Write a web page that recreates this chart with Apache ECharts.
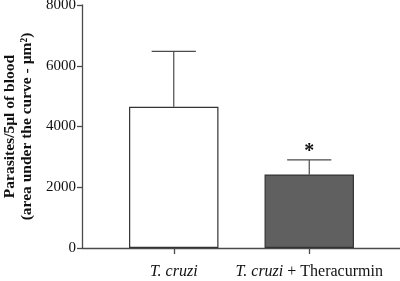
<!DOCTYPE html>
<html><head><meta charset="utf-8">
<script src="https://cdn.jsdelivr.net/npm/echarts@6/dist/echarts.min.js"></script>
<style>html,body{margin:0;padding:0;background:#fff}#c{width:400px;height:281px}</style>
</head><body><div id="c"></div>
<script>
const categories = ['T. cruzi', 'T. cruzi + Theracurmin'];
const means = [4650, 2420];
const errUpper = [6470, 2900];
const significance = ['', '*'];
const yTicks = [0, 2000, 4000, 6000, 8000];
const barColors = ['#ffffff', '#606060'];

const chart = echarts.init(document.getElementById('c'));
const serif = '"Liberation Serif", "DejaVu Serif", serif';
const lineCol = '#4a4a4a';
chart.setOption({
  animation: false,
  grid: [
    {left: 82, right: 0, top: 5, bottom: 33, outerBoundsMode: 'none', containLabel: false},
    {left: 106, right: 23, top: 5, bottom: 33, outerBoundsMode: 'none', containLabel: false}
  ],
  xAxis: [
    {gridIndex: 0, type: 'value', min: 0, max: 1, axisLine: {show: true, lineStyle: {color: lineCol, width: 1.3}},
     axisTick: {show: false}, axisLabel: {show: false}, splitLine: {show: false}},
    {gridIndex: 1, type: 'category', data: categories,
     axisLine: {show: false}, axisTick: {show: true, alignWithLabel: true, length: 6, lineStyle: {color: lineCol, width: 1.3}},
     axisLabel: {margin: 16, interval: 0, hideOverlap: false, fontFamily: serif, fontSize: 16, color: '#111',
       formatter: function (v) {
         const parts = v.split(' + ');
         return parts.length > 1 ? '{i|' + parts[0] + '}{n| + ' + parts[1] + '}' : '{i|' + v + '}';
       },
       rich: {i: {fontStyle: 'italic', fontFamily: serif, fontSize: 16, color: '#111'},
              n: {fontFamily: serif, fontSize: 16, color: '#111'}}
     }}
  ],
  yAxis: [
    {gridIndex: 0, type: 'value', min: yTicks[0], max: yTicks[yTicks.length - 1], interval: 2000,
     axisLine: {show: true, lineStyle: {color: lineCol, width: 1.3}},
     axisTick: {show: true, length: 5, lineStyle: {color: lineCol, width: 1.3}},
     axisLabel: {fontFamily: serif, fontSize: 15, color: '#111', margin: 6, formatter: v => String(v)},
     splitLine: {show: false},
     name: '{a|Parasites/5µl of blood}\n{a|(area under the curve - µm²)}',
     nameLocation: 'middle', nameGap: 45, nameRotate: 90,
     nameTextStyle: {fontFamily: serif, fontWeight: 'bold', fontSize: 15.5, color: '#111', lineHeight: 17,
       rich: {a: {fontFamily: serif, fontWeight: 'bold', fontSize: 15.5, color: '#111', lineHeight: 17}}}},
    {gridIndex: 1, type: 'value', min: yTicks[0], max: yTicks[yTicks.length - 1], show: false}
  ],
  series: [
    {type: 'bar', xAxisIndex: 1, yAxisIndex: 1, barWidth: '66%',
     data: means.map((v, i) => ({value: v, itemStyle: {color: barColors[i], borderColor: '#333', borderWidth: 1.2}}))},
    {type: 'custom', xAxisIndex: 1, yAxisIndex: 1,
     data: means.map((m, i) => [i, m, errUpper[i]]),
     renderItem: function (params, api) {
       const i = api.value(0);
       const base = api.coord([i, api.value(1)]);
       const top = api.coord([i, api.value(2)]);
       const half = api.size([1, 0])[0] * 0.163;
       const children = [
         {type: 'line', shape: {x1: base[0], y1: base[1], x2: top[0], y2: top[1]}, style: {stroke: lineCol, lineWidth: 1.2}},
         {type: 'line', shape: {x1: top[0] - half, y1: top[1], x2: top[0] + half, y2: top[1]}, style: {stroke: lineCol, lineWidth: 1.2}}
       ];
       if (significance[i]) {
         children.push({type: 'text', style: {text: significance[i], x: top[0], y: top[1] + 2, align: 'center', verticalAlign: 'bottom',
           font: 'bold 20px ' + serif, fill: '#111'}});
       }
       return {type: 'group', children: children};
     }}
  ]
});
</script></body></html>
